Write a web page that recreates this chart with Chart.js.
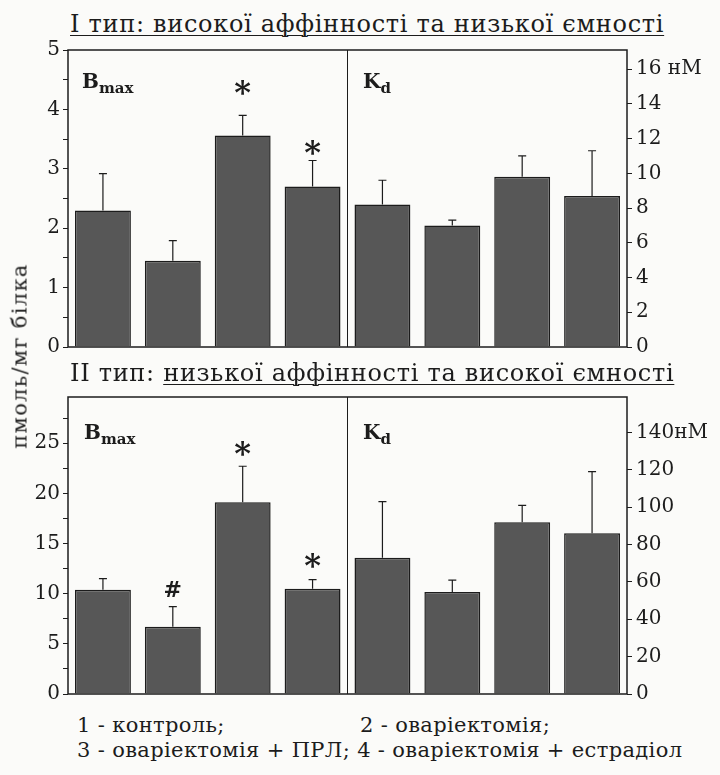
<!DOCTYPE html>
<html>
<head>
<meta charset="utf-8">
<script src="https://cdn.jsdelivr.net/npm/chart.js@4"></script>
<style>
  body { margin: 0; background: #fbfbf9; }
  #page { position: relative; width: 720px; height: 775px; overflow: hidden;
          font-family: "DejaVu Serif", serif; color: #1c1c1c; }
  canvas { position: absolute; left: 0; }
  .txt { position: absolute; white-space: nowrap; line-height: 1; }
  .title { font-size: 24px; letter-spacing: 0.7px; }
  .u { text-decoration: underline; text-decoration-thickness: 1px; text-underline-offset: 3px; }
  .lbl { font-size: 20px; font-weight: bold; }
  .lbl sub { font-size: 15px; vertical-align: -5px; }
  .legend { font-size: 21px; letter-spacing: 0.35px; }
  #ylab { font-size: 21px; letter-spacing: 1.3px; transform: translate(-50%, -50%) rotate(-90deg); left: 20px; top: 356px; }
</style>
</head>
<body>
<div id="page">
  <div class="txt title u" style="left:70px; top:12px;">І тип: високої аффінності та низької ємності</div>
  <canvas id="chartTop" width="720" height="370" style="top:0"></canvas>
  <div class="txt title" style="left:70px; top:361px;">ІІ тип: <span class="u">низької аффінності та високої ємності</span></div>
  <canvas id="chartBottom" width="720" height="340" style="top:370px"></canvas>

  <div class="txt lbl" style="left:82px; top:71px;">B<sub>max</sub></div>
  <div class="txt lbl" style="left:363px; top:71px;">K<sub>d</sub></div>
  <div class="txt lbl" style="left:84px; top:422px;">B<sub>max</sub></div>
  <div class="txt lbl" style="left:363px; top:422px;">K<sub>d</sub></div>

  <div class="txt" id="ylab">пмоль/мг білка</div>

  <div class="txt legend" style="left:77px; top:715px;">1 - контроль;</div>
  <div class="txt legend" style="left:360px; top:715px;">2 - оваріектомія;</div>
  <div class="txt legend" style="left:77px; top:740px;">3 - оваріектомія + ПРЛ; 4 - оваріектомія + естрадіол</div>
</div>

<script>
// групи: 1 - контроль, 2 - оваріектомія, 3 - +ПРЛ, 4 - +естрадіол
const groups = ["1", "2", "3", "4"];

// І тип
const bmax1 = [2.3, 1.45, 3.56, 2.7];        // пмоль/мг білка
const bmax1Err = [0.62, 0.34, 0.34, 0.44];
const kd1 = [8.2, 7.0, 9.8, 8.7];            // нМ
const kd1Err = [1.4, 0.3, 1.2, 2.6];

// ІІ тип
const bmax2 = [10.4, 6.7, 19.1, 10.5];
const bmax2Err = [1.1, 2.0, 3.6, 0.9];
const kd2 = [73, 54.6, 92, 86];
const kd2Err = [30, 6.4, 9, 33];

// позначки достовірності та їх висота (в одиницях осі)
const marks1 = [null, null, "*", "*"];
const marks1At = [null, null, 4.37, 3.35];
const marks2 = [null, "#", "*", "*"];
const marks2At = [null, 10.2, 24.4, 13.3];

const empty = [null, null, null, null];
const barFill = "#575757";
const ink = "#1c1c1c";
const tickFont = { family: "DejaVu Serif", size: 20 };

// рамка, розділювач, похибки та зірочки
const panelPlugin = {
  id: "panel",
  afterDatasetsDraw(chart) {
    const ctx = chart.ctx;
    const a = chart.chartArea;
    const xs = chart.scales.x;
    ctx.save();
    ctx.strokeStyle = ink;
    ctx.lineWidth = 1.5;
    ctx.strokeRect(a.left, a.top, a.right - a.left, a.bottom - a.top);
    const mid = (xs.getPixelForValue(3) + xs.getPixelForValue(4)) / 2;
    ctx.lineWidth = 1;
    ctx.beginPath();
    ctx.moveTo(mid, a.top);
    ctx.lineTo(mid, a.bottom);
    ctx.stroke();

    chart.data.datasets.forEach((ds, i) => {
      const meta = chart.getDatasetMeta(i);
      const ys = chart.scales[ds.yAxisID];
      meta.data.forEach((el, j) => {
        const v = ds.data[j];
        if (v == null) return;
        const e = ds.errors[j];
        const yTop = ys.getPixelForValue(v + e);
        ctx.lineWidth = 1.2;
        ctx.strokeStyle = ink;
        ctx.beginPath();
        ctx.moveTo(el.x, el.y);
        ctx.lineTo(el.x, yTop);
        ctx.moveTo(el.x - 4, yTop);
        ctx.lineTo(el.x + 4, yTop);
        ctx.stroke();
        if (ds.marks && ds.marks[j]) {
          const m = ds.marks[j];
          ctx.fillStyle = ink;
          ctx.textAlign = "center";
          ctx.textBaseline = "middle";
          ctx.font = m === "*" ? "bold 32px 'DejaVu Serif'" : "bold 22px 'DejaVu Serif'";
          const off = m === "*" ? 7 : 0;
          ctx.fillText(m, el.x, ys.getPixelForValue(ds.marksAt[j]) + off);
        }
      });
    });
    ctx.restore();
  }
};

function makeChart(id, cfg) {
  const leftAxis = {
    position: "left",
    min: 0,
    max: cfg.leftMax,
    ticks: {
      stepSize: cfg.leftStep,
      includeBounds: false,
      font: tickFont,
      color: ink,
      padding: 3,
      callback: v => (v % cfg.leftLabelEvery === 0 ? v : "")
    },
    grid: { drawOnChartArea: false, tickLength: 5, color: ink, lineWidth: 1 },
    border: { display: false },
    afterFit: s => { s.width = 68; }
  };
  const rightAxis = {
    position: "right",
    min: 0,
    max: cfg.rightMax,
    ticks: {
      stepSize: cfg.rightStep,
      includeBounds: false,
      font: tickFont,
      color: ink,
      padding: 4,
      callback: v => {
        if (v % cfg.rightLabelEvery !== 0) return "";
        return v === cfg.unitAt ? v + cfg.unitText : v;
      }
    },
    grid: { drawOnChartArea: false, tickLength: 5, color: ink, lineWidth: 1 },
    border: { display: false },
    afterFit: s => { s.width = 93; }
  };

  return new Chart(document.getElementById(id).getContext("2d"), {
    type: "bar",
    data: {
      labels: groups.concat(groups),
      datasets: [
        {
          label: "Bmax",
          data: cfg.bmax.concat(empty),
          errors: cfg.bmaxErr.concat(empty),
          marks: cfg.marks.concat(empty),
          marksAt: cfg.marksAt.concat(empty),
          yAxisID: "y",
          backgroundColor: barFill,
          borderColor: ink,
          borderWidth: 1.5
        },
        {
          label: "Kd",
          data: empty.concat(cfg.kd),
          errors: empty.concat(cfg.kdErr),
          yAxisID: "y2",
          backgroundColor: barFill,
          borderColor: ink,
          borderWidth: 1.5
        }
      ]
    },
    options: {
      responsive: false,
      animation: false,
      layout: { padding: cfg.padding },
      datasets: { bar: { grouped: false, categoryPercentage: 0.8, barPercentage: 1 } },
      plugins: { legend: { display: false }, tooltip: { enabled: false } },
      scales: {
        x: { display: false },
        y: leftAxis,
        y2: rightAxis
      }
    },
    plugins: [panelPlugin]
  });
}

// І тип: висока аффінність, низька ємність
makeChart("chartTop", {
  bmax: bmax1, bmaxErr: bmax1Err, kd: kd1, kdErr: kd1Err,
  marks: marks1, marksAt: marks1At,
  leftMax: 5, leftStep: 0.5, leftLabelEvery: 1,
  rightMax: 17.1, rightStep: 1, rightLabelEvery: 2,
  unitAt: 16, unitText: " нМ",
  padding: { top: 50, bottom: 23, left: 0, right: 0 }
});

// ІІ тип: низька аффінність, висока ємність
makeChart("chartBottom", {
  bmax: bmax2, bmaxErr: bmax2Err, kd: kd2, kdErr: kd2Err,
  marks: marks2, marksAt: marks2At,
  leftMax: 29.6, leftStep: 2.5, leftLabelEvery: 5,
  rightMax: 159, rightStep: 10, rightLabelEvery: 20,
  unitAt: 140, unitText: "нМ",
  padding: { top: 27, bottom: 14, left: 0, right: 0 }
});
</script>
</body>
</html>
